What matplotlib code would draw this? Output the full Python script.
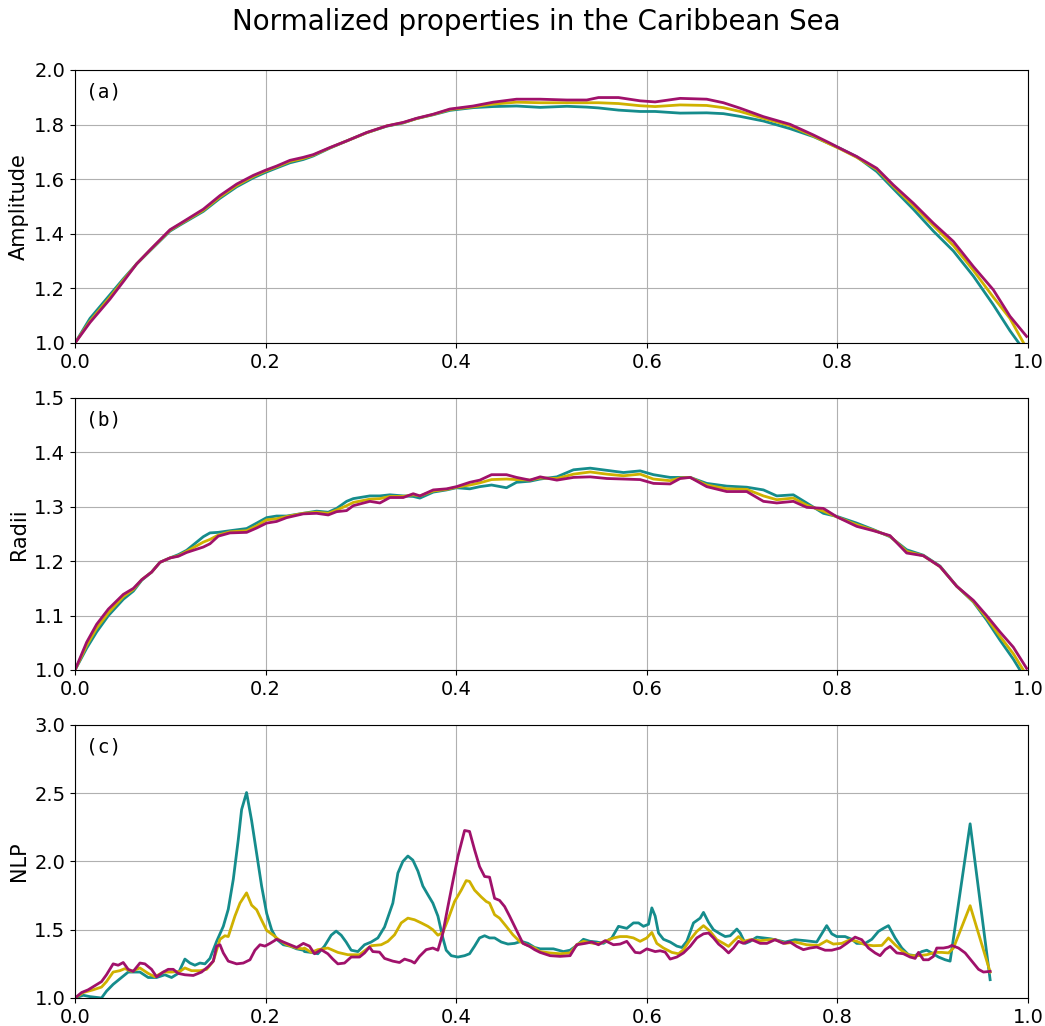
import matplotlib
matplotlib.use("Agg")
import matplotlib.pyplot as plt

# ---------------- data ----------------
title = "Normalized properties in the Caribbean Sea"
series_colors = ["#158c8c", "#cfb100", "#a0116b"]
panel_tags = ["(a)", "(b)", "(c)"]
y_labels = ["Amplitude", "Radii", "NLP"]
y_limits = [(1.0, 2.0), (1.0, 1.5), (1.0, 3.0)]
y_ticks = [[1.0, 1.2, 1.4, 1.6, 1.8, 2.0],
           [1.0, 1.1, 1.2, 1.3, 1.4, 1.5],
           [1.0, 1.5, 2.0, 2.5, 3.0]]
x_ticks = [0.0, 0.2, 0.4, 0.6, 0.8, 1.0]

# (a) amplitude
amp_x = [0.0, 0.0157, 0.0367, 0.0507, 0.0647, 0.0787, 0.0997, 0.1101, 0.1346, 0.1521,
         0.1696, 0.1871, 0.2, 0.2115, 0.2255, 0.2395, 0.25, 0.2675, 0.285, 0.306,
         0.327, 0.3444, 0.3584, 0.3759, 0.3934, 0.4003, 0.4178, 0.4388, 0.4633,
         0.4881, 0.5161, 0.537, 0.5493, 0.5703, 0.593, 0.6087, 0.635, 0.6629, 0.6804,
         0.6979, 0.7224, 0.7503, 0.7748, 0.7923, 0.8028, 0.8203, 0.8413, 0.8587,
         0.8797, 0.9007, 0.9217, 0.9427, 0.9636, 0.9811, 0.9986]
amp_teal = [1.0, 1.09, 1.177, 1.235, 1.29, 1.338, 1.41, 1.432, 1.482, 1.53,
            1.572, 1.605, 1.625, 1.641, 1.66, 1.672, 1.685, 1.714, 1.74, 1.77,
            1.794, 1.806, 1.822, 1.836, 1.852, 1.855, 1.862, 1.866, 1.868,
            1.863, 1.867, 1.864, 1.861, 1.853, 1.848, 1.848, 1.842, 1.843, 1.84,
            1.83, 1.813, 1.785, 1.756, 1.729, 1.713, 1.682, 1.628, 1.565,
            1.49, 1.41, 1.337, 1.245, 1.14, 1.045, 0.96]
amp_yellow = [1.0, 1.08, 1.168, 1.23, 1.29, 1.34, 1.413, 1.435, 1.486, 1.535,
              1.577, 1.61, 1.63, 1.645, 1.665, 1.676, 1.688, 1.715, 1.74, 1.77,
              1.795, 1.807, 1.822, 1.837, 1.855, 1.858, 1.865, 1.875, 1.882,
              1.88, 1.88, 1.88, 1.88, 1.877, 1.869, 1.866, 1.872, 1.87, 1.862,
              1.848, 1.823, 1.796, 1.758, 1.728, 1.711, 1.68, 1.636, 1.574,
              1.503, 1.43, 1.357, 1.266, 1.168, 1.09, 0.98]
amp_magenta = [1.0, 1.075, 1.161, 1.225, 1.29, 1.341, 1.415, 1.437, 1.49, 1.54,
               1.582, 1.614, 1.633, 1.648, 1.669, 1.68, 1.69, 1.716, 1.74, 1.771,
               1.795, 1.808, 1.823, 1.838, 1.857, 1.86, 1.868, 1.882, 1.893,
               1.893, 1.89, 1.89, 1.899, 1.899, 1.887, 1.883, 1.896, 1.893, 1.88,
               1.86, 1.829, 1.801, 1.762, 1.732, 1.713, 1.683, 1.64, 1.579,
               1.512, 1.439, 1.372, 1.28, 1.195, 1.098, 1.024]

# (b) radii
rad_x = [0.0, 0.0122, 0.0227, 0.035, 0.0507, 0.0612, 0.07, 0.0804, 0.0892, 0.0997,
         0.1084, 0.1171, 0.1346, 0.1416, 0.1503, 0.1626, 0.1801, 0.1906, 0.201,
         0.2115, 0.222, 0.2395, 0.2535, 0.2657, 0.2745, 0.285, 0.292, 0.3094,
         0.3199, 0.3304, 0.3444, 0.3549, 0.3619, 0.3759, 0.3899, 0.4003, 0.4143,
         0.4248, 0.4371, 0.4528, 0.4633, 0.4773,
         0.4881, 0.5056, 0.5231, 0.5406, 0.558, 0.5755, 0.593, 0.607, 0.6245,
         0.635, 0.6455, 0.6629, 0.6839, 0.7049, 0.7224, 0.7364, 0.7538, 0.7678,
         0.7853, 0.8, 0.8203, 0.8378, 0.8552, 0.8727, 0.8902, 0.9077, 0.9252,
         0.9427, 0.9566, 0.9706, 0.9846, 0.9986]
rad_teal = [1.0, 1.04, 1.07, 1.10, 1.13, 1.145, 1.165, 1.18, 1.198, 1.206,
            1.212, 1.22, 1.245, 1.252, 1.253, 1.256, 1.26, 1.27, 1.28,
            1.283, 1.283, 1.288, 1.292, 1.29, 1.297, 1.31, 1.315, 1.32,
            1.32, 1.322, 1.32, 1.319, 1.316, 1.327, 1.331, 1.335, 1.333,
            1.337, 1.34, 1.335, 1.345, 1.347,
            1.351, 1.355, 1.368, 1.371, 1.367, 1.363, 1.366, 1.359, 1.354,
            1.354, 1.354, 1.343, 1.338, 1.336, 1.331, 1.32, 1.322, 1.307,
            1.288, 1.282, 1.27, 1.258, 1.245, 1.221, 1.211, 1.191, 1.154,
            1.125, 1.092, 1.055, 1.02, 0.98]
rad_yellow = [1.0, 1.045, 1.077, 1.105, 1.135, 1.148, 1.166, 1.18, 1.198, 1.206,
              1.21, 1.218, 1.235, 1.24, 1.248, 1.254, 1.256, 1.265, 1.276,
              1.278, 1.282, 1.288, 1.29, 1.288, 1.294, 1.302, 1.308, 1.314,
              1.315, 1.319, 1.319, 1.322, 1.32, 1.329, 1.332, 1.336, 1.34,
              1.344, 1.35, 1.351, 1.35, 1.349,
              1.353, 1.352, 1.36, 1.364, 1.36, 1.357, 1.36, 1.351, 1.348,
              1.353, 1.354, 1.34, 1.333, 1.332, 1.32, 1.313, 1.316, 1.303,
              1.292, 1.281, 1.267, 1.257, 1.246, 1.218, 1.21, 1.19, 1.154,
              1.126, 1.096, 1.062, 1.03, 0.99]
rad_magenta = [1.0, 1.051, 1.084, 1.112, 1.139, 1.15, 1.166, 1.18, 1.198, 1.206,
               1.209, 1.216, 1.226, 1.232, 1.246, 1.252, 1.253, 1.261, 1.27,
               1.273, 1.28, 1.287, 1.288, 1.285, 1.291, 1.293, 1.302, 1.31,
               1.307, 1.317, 1.317, 1.324, 1.32, 1.331, 1.333, 1.337, 1.345,
               1.349, 1.359, 1.359, 1.354, 1.349,
               1.355, 1.349, 1.354, 1.355, 1.352, 1.351, 1.35, 1.343, 1.342,
               1.352, 1.354, 1.337, 1.328, 1.328, 1.31, 1.307, 1.31, 1.299,
               1.297, 1.281, 1.264, 1.256, 1.247, 1.215, 1.21, 1.19, 1.154,
               1.128, 1.1, 1.07, 1.042, 1.003]

# (c) NLP
nlp_teal_x = [0.0, 0.0086, 0.0156, 0.0278, 0.033, 0.04, 0.047, 0.0558, 0.0681, 0.0768,
              0.0856, 0.0943, 0.1013, 0.1083, 0.1153, 0.1206, 0.1258, 0.1311, 0.1363,
              0.1416, 0.1486, 0.1556, 0.1608, 0.1661, 0.1713, 0.1748, 0.18, 0.1853,
              0.1906, 0.1958, 0.2011, 0.2063, 0.2116, 0.2186, 0.2256, 0.2326, 0.2396,
              0.2408, 0.2478, 0.2548, 0.2618, 0.2688, 0.274, 0.2793, 0.2845, 0.2898,
              0.2968, 0.3038, 0.3108, 0.3178, 0.3248, 0.3335, 0.3388, 0.344, 0.3493,
              0.3545, 0.3598, 0.365, 0.3703, 0.3755, 0.3808, 0.386, 0.3895, 0.3948,
              0.4018, 0.4088, 0.414, 0.4193, 0.4245, 0.4298, 0.435, 0.4403, 0.4473,
              0.4543, 0.4613, 0.4683, 0.4753, 0.4823,
              0.488, 0.502, 0.5125, 0.5195, 0.5265, 0.5335, 0.5405, 0.5475, 0.5545,
              0.5633, 0.5703, 0.579, 0.586, 0.5913, 0.5965, 0.6018, 0.6053, 0.6088,
              0.6123, 0.6175, 0.6245, 0.6315, 0.6368, 0.642, 0.649, 0.656, 0.6595,
              0.6648, 0.67, 0.677, 0.6823, 0.6875, 0.6945, 0.698, 0.7033, 0.7085,
              0.7155, 0.7225, 0.7295,
              0.7346, 0.7451, 0.7556, 0.7661, 0.7783, 0.7836, 0.7888, 0.7941, 0.7993,
              0.8081, 0.8151, 0.8203, 0.8291, 0.8361, 0.8431, 0.8483, 0.8536, 0.8606,
              0.8676, 0.8746, 0.8816, 0.8886, 0.8938, 0.8991, 0.9061, 0.9131, 0.9183,
              0.9393, 0.9603]
nlp_teal = [1.0, 1.02, 1.01, 1.0, 1.05, 1.10, 1.14, 1.19, 1.19, 1.15,
            1.15, 1.17, 1.15, 1.18, 1.285, 1.256, 1.24, 1.256, 1.25,
            1.29, 1.415, 1.525, 1.65, 1.87, 2.16, 2.38, 2.505, 2.30,
            2.06, 1.82, 1.62, 1.50, 1.43, 1.39, 1.38, 1.36, 1.35,
            1.34, 1.334, 1.324, 1.38, 1.46, 1.49, 1.46, 1.41, 1.35,
            1.34, 1.39, 1.41, 1.44, 1.52, 1.695, 1.915, 2.0, 2.04,
            2.01, 1.93, 1.82, 1.756, 1.695, 1.60, 1.44, 1.35, 1.31,
            1.30, 1.31, 1.324, 1.38, 1.44, 1.456, 1.44, 1.44, 1.41,
            1.395, 1.40, 1.415, 1.40, 1.37,
            1.36, 1.36, 1.34, 1.35, 1.385, 1.43, 1.415, 1.41, 1.40,
            1.44, 1.525, 1.51, 1.55, 1.55, 1.525, 1.54, 1.66, 1.60,
            1.476, 1.43, 1.41, 1.38, 1.37, 1.415, 1.55, 1.585, 1.627,
            1.554, 1.50, 1.47, 1.45, 1.456, 1.505, 1.476, 1.40, 1.415,
            1.446, 1.44, 1.434,
            1.427, 1.41, 1.427, 1.42, 1.41, 1.47, 1.53, 1.47, 1.45,
            1.45, 1.43, 1.40, 1.40, 1.43, 1.488, 1.51, 1.53, 1.44,
            1.366, 1.317, 1.31, 1.34, 1.35, 1.33, 1.30, 1.28, 1.27,
            2.276, 1.134]

nlp_yellow_x = [0.0, 0.0086, 0.0191, 0.0278, 0.033, 0.04, 0.047, 0.0523, 0.0593, 0.0681,
                0.0768, 0.0838, 0.0926, 0.1013, 0.1101, 0.1153, 0.1223, 0.1311, 0.1381,
                0.1451, 0.1521, 0.1573, 0.1608, 0.1678, 0.1731, 0.18, 0.1853, 0.1906,
                0.1958, 0.2011, 0.2081, 0.2133, 0.2221, 0.2326, 0.2396,
                0.2408, 0.2478, 0.2548, 0.2653, 0.2758, 0.2863, 0.2985, 0.3055, 0.3108,
                0.3213, 0.3283, 0.3353, 0.3423, 0.3493, 0.3563, 0.3633, 0.3703, 0.3755,
                0.3808, 0.386, 0.3913, 0.3983, 0.4053, 0.4105, 0.414, 0.4193, 0.4263,
                0.4315, 0.435, 0.4403, 0.4455, 0.4525, 0.4595, 0.4665, 0.4735, 0.4823,
                0.488, 0.4985, 0.509, 0.5195, 0.5265, 0.5335, 0.544, 0.551, 0.558,
                0.565, 0.572, 0.579, 0.586, 0.593, 0.6, 0.6053, 0.6105, 0.6175, 0.6263,
                0.6333, 0.6385, 0.6455, 0.6525, 0.6595, 0.6665, 0.6735, 0.6805, 0.6858,
                0.691, 0.6963, 0.7015, 0.7085, 0.719, 0.7295,
                0.7346, 0.7451, 0.7556, 0.7678, 0.7801, 0.7888, 0.7958, 0.8046, 0.8133,
                0.8203, 0.8291, 0.8378, 0.8466, 0.8536, 0.8606, 0.8676, 0.8763, 0.8851,
                0.8938, 0.9026, 0.9096, 0.9166, 0.9218, 0.9393, 0.9603]
nlp_yellow = [1.0, 1.04, 1.06, 1.08, 1.12, 1.19, 1.20, 1.215, 1.195, 1.22,
              1.18, 1.155, 1.19, 1.19, 1.195, 1.22, 1.20, 1.20, 1.21,
              1.27, 1.43, 1.456, 1.45, 1.60, 1.695, 1.77, 1.68, 1.646,
              1.57, 1.495, 1.46, 1.43, 1.39, 1.366, 1.36,
              1.366, 1.334, 1.354, 1.366, 1.334, 1.317, 1.317, 1.354, 1.383,
              1.39, 1.415, 1.463, 1.55, 1.585, 1.573, 1.55, 1.525, 1.50,
              1.46, 1.48, 1.573, 1.707, 1.79, 1.86, 1.854, 1.79, 1.74,
              1.707, 1.695, 1.61, 1.585, 1.525, 1.463, 1.415, 1.39, 1.366,
              1.34, 1.33, 1.324, 1.33, 1.39, 1.415, 1.40, 1.40, 1.42,
              1.44, 1.45, 1.45, 1.44, 1.415, 1.44, 1.48, 1.40, 1.366, 1.334,
              1.324, 1.354, 1.427, 1.488, 1.53, 1.488, 1.427, 1.40, 1.378,
              1.415, 1.45, 1.415, 1.427, 1.42, 1.427,
              1.427, 1.40, 1.41, 1.39, 1.385, 1.42, 1.395, 1.40, 1.427,
              1.415, 1.39, 1.383, 1.385, 1.44, 1.39, 1.346, 1.31, 1.31,
              1.317, 1.334, 1.334, 1.33, 1.366, 1.676, 1.19]

nlp_magenta_x = [0.0, 0.0069, 0.0138, 0.0208, 0.0278, 0.033, 0.04, 0.0453, 0.0506, 0.0558,
                 0.0611, 0.0681, 0.0733, 0.0803, 0.0856, 0.0926, 0.0978, 0.1031, 0.1083,
                 0.1153, 0.1241, 0.1328, 0.1398, 0.1451, 0.1486, 0.1521, 0.1556, 0.1608,
                 0.1696, 0.1766, 0.1836, 0.1888, 0.1941, 0.1993, 0.2046, 0.2116, 0.2186,
                 0.2256, 0.2326, 0.2396,
                 0.246, 0.2513, 0.2583, 0.2653, 0.2705, 0.2758, 0.2828, 0.2898, 0.2985,
                 0.3038, 0.309, 0.3125, 0.3195, 0.3248, 0.3335, 0.3405, 0.3458, 0.3528,
                 0.3563, 0.3615, 0.3685, 0.3755, 0.3808, 0.386, 0.3913, 0.3965, 0.4018,
                 0.4088, 0.414, 0.4193, 0.4245, 0.4298, 0.435, 0.4403, 0.4455, 0.4508,
                 0.456, 0.463, 0.47, 0.477, 0.4823,
                 0.488, 0.4985, 0.509, 0.5195, 0.5265, 0.5353, 0.5423, 0.5493, 0.5563,
                 0.565, 0.572, 0.579, 0.5878, 0.593, 0.6, 0.6088, 0.614, 0.6193, 0.6245,
                 0.6315, 0.6385, 0.6455, 0.6525, 0.6595, 0.6648, 0.67, 0.6753, 0.6805,
                 0.6858, 0.691, 0.6963, 0.7015, 0.7103, 0.719, 0.726,
                 0.7346, 0.7433, 0.7503, 0.7573, 0.7643, 0.7713, 0.7783, 0.7871, 0.7941,
                 0.8028, 0.8098, 0.8186, 0.8256, 0.8326, 0.8396, 0.8448, 0.8501, 0.8553,
                 0.8623, 0.8693, 0.8763, 0.8816, 0.8851, 0.8903, 0.8956, 0.9008, 0.9043,
                 0.9113, 0.9166, 0.9201, 0.9271, 0.9341, 0.9411, 0.9481, 0.9533, 0.9603]
nlp_magenta = [1.0, 1.04, 1.06, 1.09, 1.12, 1.17, 1.25, 1.24, 1.26, 1.21,
               1.195, 1.256, 1.25, 1.21, 1.155, 1.19, 1.21, 1.21, 1.18,
               1.17, 1.165, 1.19, 1.23, 1.27, 1.38, 1.39, 1.33, 1.27,
               1.25, 1.256, 1.28, 1.35, 1.39, 1.38, 1.40, 1.43, 1.41,
               1.39, 1.37, 1.40,
               1.38, 1.324, 1.354, 1.324, 1.285, 1.25, 1.256, 1.30, 1.30,
               1.33, 1.373, 1.34, 1.336, 1.29, 1.27, 1.26, 1.285, 1.27,
               1.256, 1.305, 1.354, 1.366, 1.35, 1.476, 1.67, 1.854, 2.037,
               2.227, 2.22, 2.085, 1.963, 1.89, 1.885, 1.73, 1.715, 1.67,
               1.60, 1.50, 1.40, 1.378, 1.354,
               1.334, 1.31, 1.305, 1.31, 1.39, 1.40, 1.41, 1.39, 1.42,
               1.39, 1.395, 1.415, 1.334, 1.33, 1.36, 1.34, 1.346, 1.336, 1.285,
               1.30, 1.33, 1.378, 1.44, 1.47, 1.476, 1.44, 1.395, 1.366,
               1.33, 1.366, 1.415, 1.40, 1.427, 1.40, 1.40,
               1.427, 1.40, 1.41, 1.378, 1.354, 1.366, 1.373, 1.35, 1.35,
               1.366, 1.40, 1.446, 1.427, 1.366, 1.33, 1.31, 1.354, 1.378,
               1.33, 1.324, 1.30, 1.29, 1.334, 1.28, 1.28, 1.305, 1.366,
               1.366, 1.373, 1.385, 1.366, 1.33, 1.27, 1.21, 1.19, 1.195]

panels = [
    [(amp_x, amp_teal), (amp_x, amp_yellow), (amp_x, amp_magenta)],
    [(rad_x, rad_teal), (rad_x, rad_yellow), (rad_x, rad_magenta)],
    [(nlp_teal_x, nlp_teal), (nlp_yellow_x, nlp_yellow), (nlp_magenta_x, nlp_magenta)],
]

# ---------------- figure ----------------
fig = plt.figure(figsize=(10.45, 10.26), dpi=100)
fig.suptitle(title, fontsize=20, x=0.513, y=0.992)

left, width = 0.0718, 0.9119
boxes = [(0.6657, 0.2661), (0.3470, 0.2651), (0.0273, 0.2661)]

for i, (bottom, height) in enumerate(boxes):
    ax = fig.add_axes([left, bottom, width, height])
    for (xs, ys), col in zip(panels[i], series_colors):
        ax.plot(xs, ys, color=col, lw=2.0)
    ax.set_xlim(0.0, 1.0)
    ax.set_ylim(*y_limits[i])
    ax.set_xticks(x_ticks)
    ax.set_yticks(y_ticks[i])
    ax.set_xticklabels([f"{v:.1f}" for v in x_ticks])
    ax.set_yticklabels([f"{v:.1f}" for v in y_ticks[i]])
    ax.tick_params(labelsize=14)
    ax.grid(True, color="#b0b0b0", lw=0.8)
    ax.set_axisbelow(True)
    ax.set_ylabel(y_labels[i], fontsize=15)
    ax.text(0.011, 0.955, panel_tags[i], transform=ax.transAxes,
            fontsize=14, family="DejaVu Sans Mono", va="top", ha="left")

fig.savefig("out.png", dpi=100)
